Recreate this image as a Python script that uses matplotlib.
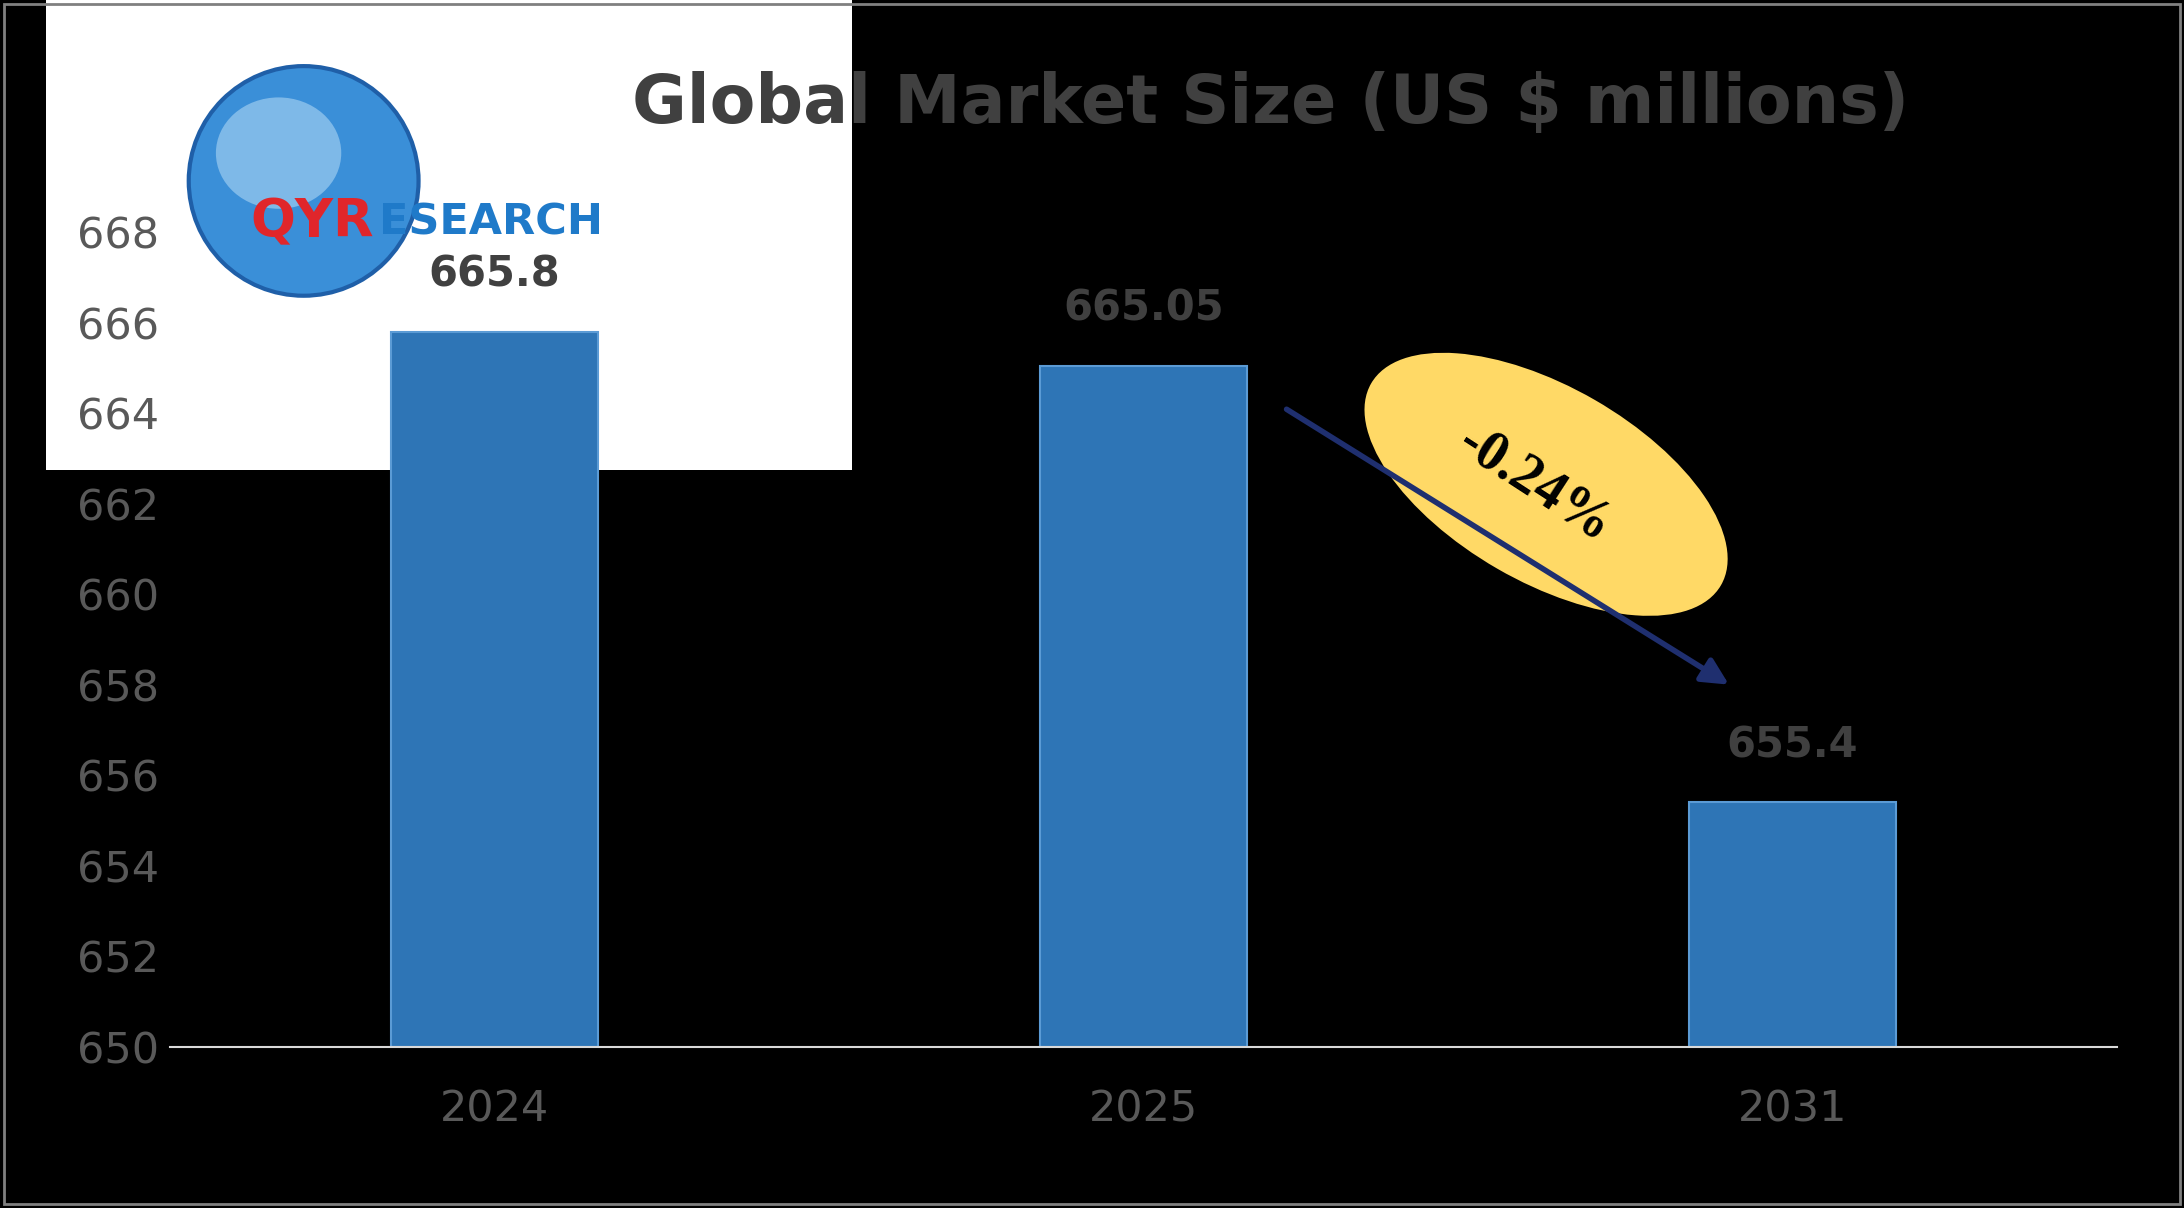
import matplotlib.pyplot as plt
from matplotlib.patches import Rectangle, Ellipse, FancyArrowPatch

years = ["2024", "2025", "2031"]
values = [665.8, 665.05, 655.4]
labels = ["665.8", "665.05", "655.4"]
cagr = "-0.24%"

W, H = 1568, 868
fig = plt.figure(figsize=(21.84, 12.08), dpi=100, facecolor="black")

def fx(x): return x / W
def fy(y): return 1 - y / H

# overlay in reference pixel coordinates for decorations
ov = fig.add_axes([0, 0, 1, 1])
ov.set_xlim(0, W)
ov.set_ylim(H, 0)
ov.axis("off")
ov.set_zorder(1)

ov.add_patch(Rectangle((33, 0), 579, 338, facecolor="white", edgecolor="none"))
ov.add_patch(Ellipse((218, 130), 165, 165, facecolor="#3A8FD8", edgecolor="#1F5FA8", lw=3))
ov.add_patch(Ellipse((200, 110), 90, 80, facecolor="#9CCBF0", edgecolor="none", alpha=0.7))
ov.text(180, 160, "QYR", color="#E0262B", fontsize=38, fontweight="bold",
        va="center", ha="left", zorder=4)
ov.text(272, 160, "ESEARCH", color="#1F7AC9", fontsize=31, fontweight="bold",
        va="center", ha="left", zorder=4)

ax = fig.add_axes([fx(122), fy(752), fx(1520) - fx(122), fy(102) - fy(752)])
ax.set_zorder(2)
ax.patch.set_alpha(0)
ax.bar(range(len(years)), [v - 650 for v in values], bottom=650, width=0.32,
       color="#2E75B6", edgecolor="#5B9BD5", linewidth=1.5, zorder=2)
ax.set_xlim(-0.5, 2.5)
ax.set_ylim(650, 670)
ax.set_yticks(range(650, 669, 2))
ax.set_xticks(range(len(years)))
ax.set_xticklabels(years)
ax.tick_params(colors="#595959", labelsize=31, length=0, pad=30)
ax.tick_params(axis="y", pad=8)
for s in ["top", "right", "left"]:
    ax.spines[s].set_visible(False)
ax.spines["bottom"].set_color("#D9D9D9")
ax.spines["bottom"].set_linewidth(1.5)
for i, (v, l) in enumerate(zip(values, labels)):
    ax.text(i, v + 0.8, l, ha="center", va="bottom", fontsize=30,
            fontweight="bold", color="#404040", zorder=5)

# top overlay: title, CAGR ellipse and arrow
top = fig.add_axes([0, 0, 1, 1])
top.set_xlim(0, W)
top.set_ylim(H, 0)
top.axis("off")
top.set_zorder(3)
top.text(912, 75, "Global Market Size (US $ millions)", ha="center",
         va="center", fontsize=48, fontweight="bold", color="#404040")
top.add_patch(Ellipse((1110, 348), 290, 140, angle=30,
                      facecolor="#FFD966", edgecolor="none"))
top.add_patch(FancyArrowPatch((922, 293), (1243, 493), arrowstyle="-|>",
                              mutation_scale=40, color="#1F2F6F", lw=4))
top.text(1102, 348, cagr, ha="center", va="center", fontsize=40,
         fontweight="bold", family="Liberation Serif", color="black",
         rotation=-33)
top.add_patch(Rectangle((3, 3), W - 6, H - 6, facecolor="none",
                        edgecolor="#808080", lw=2))

fig.savefig("out.png", dpi=100, facecolor="black")
